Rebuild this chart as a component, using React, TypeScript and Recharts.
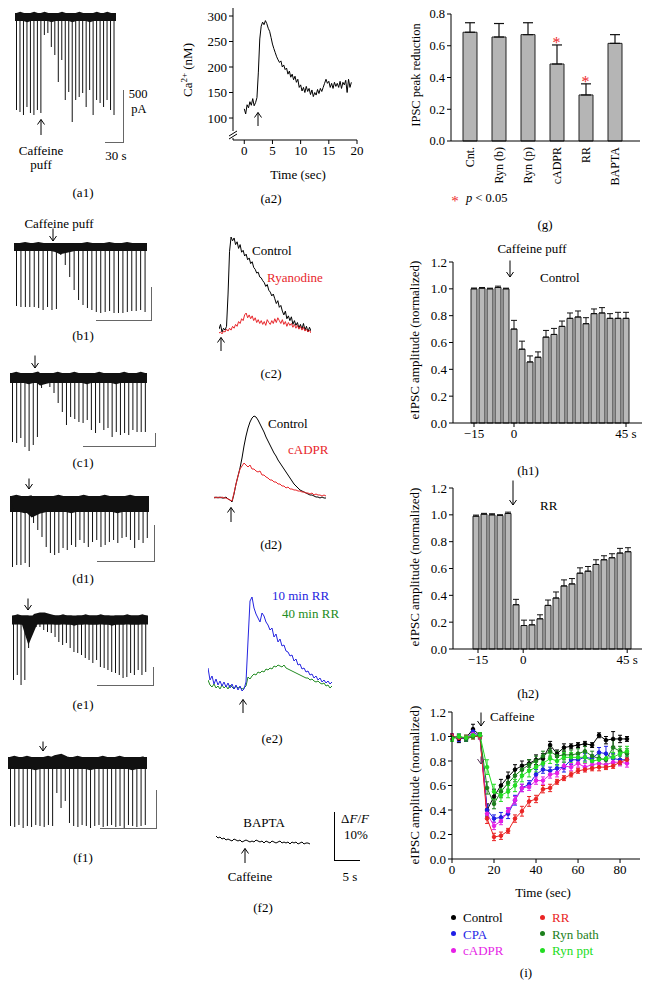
import React from 'react';
import { ComposedChart, LineChart, Bar, Line, XAxis, YAxis, ErrorBar, ReferenceLine } from 'recharts';

const SERIF = '"Liberation Serif", "DejaVu Serif", "Times New Roman", serif';

// ---------- (a1)-(f1) sweeps: spike depths (a.u.) and baseline offsets ----------
const a1Spikes = [93, 95, 98, 90, 96, 98, 93, 96, 18, 16, 30, 38, 65, 43, 83, 75, 105, 83, 80, 76, 90, 73, 98, 83, 86, 90, 83, 93, 98];
const a1Base = [0, 1, 0, -1, 0, 1, 0, 0, 1, 0, -1, 0, 0, 1, 0, 0, -1, 0, 1, 0, 0, -1, 0, 1, 0, 0, 1, 0, 0];
const b1Spikes = [59, 60, 60, 60, 60, 61, 63, 60, 63, 62, 8, 18, 30, 43, 53, 58, 61, 63, 65, 66, 65, 64, 66, 66, 66, 65, 64, 64, 63, 65];
const b1Base = [0, 0, 1, 0, 0, 1, 0, 0, 0, -1, -3, -2, -1, 0, 0, 0, 1, 0, 0, 0, 0, 1, 0, 0, 0, 1, 0, 0, 0, 0];
const c1Spikes = [64, 65, 60, 69, 73, 67, 59, 10, 4, 9, 15, 25, 34, 47, 39, 41, 44, 45, 42, 52, 55, 45, 52, 50, 59, 54, 57, 55, 57, 52, 54, 54, 54];
const c1Base = [0, 1, 0, 0, -1, 0, 1, -2, -1, 0, 0, 1, 0, 0, 0, 1, 0, 0, -1, 0, 0, 1, 0, 0, 0, -1, 0, 1, 0, 0, 0, 1, 0];
const d1Spikes = [63, 61, 61, 59, 63, 19, 26, 33, 43, 49, 51, 49, 44, 46, 41, 43, 36, 39, 43, 38, 36, 43, 41, 38, 36, 39, 34, 33, 36, 44, 36, 39, 34];
const d1Base = [0, 1, 0, -1, 0, -4, -2, -1, 0, 0, 0, 1, 0, 0, -1, 0, 0, 1, 0, 0, 0, 0, 1, 0, 0, -1, 0, 0, 1, 0, 0, 0, 0];
const e1Spikes = [60, 55, 65, 60, 28, 5, 7, 7, 10, 12, 13, 17, 22, 25, 23, 28, 32, 33, 35, 38, 40, 43, 40, 47, 48, 50, 52, 53, 55, 58, 57, 53, 55, 50, 55, 52];
const e1Base = [0, 1, 0, 0, -12, -3, 2, 3, 3, 2, 1, 0, 0, 1, 0, 0, -1, 0, 0, 1, 0, 0, 0, 1, 0, 0, -1, 0, 0, 0, 1, 0, 0, 0, 1, 0];
const f1Spikes = [63, 64, 62, 65, 63, 64, 62, 63, 64, 62, 63, 30, 45, 38, 60, 63, 64, 62, 63, 65, 63, 62, 64, 63, 62, 64, 63, 65, 62, 63, 64, 63, 62];
const f1Base = [0, 1, 0, 0, 1, 0, -1, 0, 0, 1, 0, 2, 3, 1, 0, 0, 1, 0, 0, -1, 0, 0, 1, 0, 0, 0, 1, 0, 0, -1, 0, 0, 1];

// ---------- (a2) Ca2+ trace ----------
const a2Time = [0, 0.25, 0.5, 0.75, 1, 1.25, 1.5, 1.75, 2, 2.25, 2.5, 2.75, 3, 3.25, 3.5, 3.75, 4, 4.25, 4.5, 4.75, 5, 5.25, 5.5, 5.75, 6, 6.25, 6.5, 6.75, 7, 7.25, 7.5, 7.75, 8, 8.25, 8.5, 8.75, 9, 9.25, 9.5, 9.75, 10, 10.25, 10.5, 10.75, 11, 11.25, 11.5, 11.75, 12, 12.25, 12.5, 12.75, 13, 13.25, 13.5, 13.75, 14, 14.25, 14.5, 14.75, 15, 15.25, 15.5, 15.75, 16, 16.25, 16.5, 16.75, 17, 17.25, 17.5, 17.75, 18, 18.25, 18.5, 18.75, 19];
const a2Ca = [118, 108, 126, 120, 132, 125, 138, 124, 130, 140, 190, 255, 280, 288, 283, 291, 285, 276, 270, 258, 245, 236, 228, 220, 214, 209, 212, 200, 204, 195, 198, 186, 192, 180, 186, 175, 182, 170, 176, 160, 165, 153, 160, 150, 162, 152, 158, 146, 155, 142, 150, 145, 156, 148, 158, 152, 160, 168, 176, 168, 172, 160, 168, 158, 170, 162, 168, 160, 172, 158, 170, 165, 174, 150, 176, 160, 170];

// ---------- (c2)-(f2) fluorescence traces (a.u.) ----------
const c2Control = [3, 8, 0, 4, 2, 6, 40, 85, 100, 96, 99, 92, 95, 88, 92, 84, 86, 80, 82, 76, 78, 72, 74, 68, 66, 62, 63, 58, 57, 54, 52, 48, 50, 44, 42, 38, 40, 35, 30, 33, 26, 28, 22, 18, 22, 14, 17, 12, 16, 8, 12, 7, 10, 4, 8, 3, 9, 2, 6, 0, 5, 1];
const c2Ryanodine = [-1, 0, -2, 1, 0, 3, 1, 4, 2, 6, 4, 8, 6, 11, 9, 14, 12, 18, 20, 15, 18, 14, 17, 12, 15, 10, 13, 9, 12, 8, 11, 7, 13, 10, 8, 12, 9, 14, 10, 15, 12, 9, 13, 8, 11, 6, 10, 7, 9, 5, 8, 4, 7, 3, 6, 2, 5, 1, 3, 0, 2, -1];
const d2Control = [0, 1, 0, 1, 0, 0, 1, -1, -2, -4, 4, 14, 22, 30, 40, 52, 62, 70, 76, 80, 82, 81, 78, 74, 70, 66, 61, 57, 53, 49, 45, 42, 38, 35, 32, 29, 26, 23, 20, 17, 14, 12, 10, 8, 7, 6, 5, 4, 3, 3, 2, 1, 1, 0, 1, 0, 0];
const d2Cadpr = [1, 0, 1, 0, 1, 0, 0, -1, -2, -3, 5, 14, 22, 29, 32, 35, 33, 31, 33, 29, 29, 27, 26, 27, 23, 23, 21, 20, 18, 18, 16, 16, 14, 14, 12, 12, 10, 11, 9, 9, 8, 8, 7, 7, 6, 6, 5, 5, 4, 5, 3, 4, 3, 3, 2, 3, 2];
const e2Rr10 = [18, 6, 10, 2, 7, 1, 5, 0, 4, -1, 3, -2, 2, -3, 1, -4, 0, -5, -3, 4, 45, 85, 89, 78, 72, 68, 64, 73, 70, 64, 61, 56, 58, 49, 52, 44, 47, 40, 41, 35, 34, 30, 31, 25, 27, 21, 22, 17, 18, 14, 15, 11, 12, 8, 10, 6, 8, 4, 6, 3, 5, 2, 4];
const e2Rr40 = [6, 1, -1, 2, -2, 0, -3, 1, -2, 0, -3, 1, -1, -3, 0, -2, -1, -3, -2, 0, 9, 7, 10, 12, 11, 14, 13, 15, 14, 17, 16, 18, 17, 20, 19, 21, 20, 19, 21, 18, 17, 16, 15, 14, 13, 12, 11, 10, 9, 8, 8, 6, 7, 5, 4, 5, 3, 2, 3, 0, 1, -2, 0];
const f2Bapta = [4, 2, 3, 1, 2, 0, 1, 0, -1, 1, 0, -1, 0, -2, -1, 0, -1, -2, -1, -2, 0, -1, -2, -1, -3, -1, -2, -3, -1, -2, -3, -2, -1, -3, -2, -3, -2, -4, -2, -3, -2, -4, -3, -2, -4, -3, -3, -4];

// ---------- (g) bar chart ----------
const gCats = ['Cnt.', 'Ryn (b)', 'Ryn (p)', 'cADPR', 'RR', 'BAPTA'];
const gMean = [0.685, 0.655, 0.67, 0.485, 0.29, 0.615];
const gErr = [0.06, 0.085, 0.075, 0.12, 0.07, 0.055];
const gSig = [false, false, false, true, true, false];
const gTicks = [0, 0.2, 0.4, 0.6, 0.8];

// ---------- (h1), (h2) ----------
const hIdx = [0, 1, 2, 3, 4, 5, 6, 7, 8, 9, 10, 11, 12, 13, 14, 15, 16, 17, 18, 19];
const h1Mean = [1.0, 1.005, 1.0, 1.01, 1.0, 0.7, 0.55, 0.455, 0.49, 0.64, 0.66, 0.72, 0.78, 0.79, 0.74, 0.815, 0.82, 0.78, 0.78, 0.78];
const h1Err = [0.006, 0.005, 0.005, 0.01, 0.005, 0.065, 0.06, 0.045, 0.04, 0.05, 0.045, 0.04, 0.04, 0.045, 0.045, 0.035, 0.04, 0.035, 0.045, 0.045];
const h2Mean = [0.99, 1.005, 1.0, 0.995, 1.01, 0.33, 0.175, 0.18, 0.225, 0.325, 0.38, 0.47, 0.485, 0.565, 0.58, 0.63, 0.665, 0.68, 0.715, 0.725];
const h2Err = [0.008, 0.006, 0.008, 0.006, 0.01, 0.04, 0.04, 0.035, 0.03, 0.04, 0.045, 0.045, 0.04, 0.04, 0.035, 0.035, 0.03, 0.03, 0.035, 0.03];
const h1TickPos = [0, 5, 19];
const h2TickPos = [0.25, 5.9, 18.9];
const hTickLabels = ['\u221215', '0', '45 s'];
const hYTicks = [0, 0.2, 0.4, 0.6, 0.8, 1.0, 1.2];

// ---------- (i) time course ----------
const iTime = [0, 3.3, 6.7, 10, 13.3, 16.7, 20, 23.3, 26.7, 30, 33.3, 36.7, 40, 43.3, 46.7, 50, 53.3, 56.7, 60, 63.3, 66.7, 70, 73.3, 76.7, 80, 83.3];
const iControl = [1.0, 0.98, 0.99, 1.06, 1.01, 0.4, 0.51, 0.6, 0.67, 0.73, 0.76, 0.78, 0.81, 0.82, 0.93, 0.86, 0.91, 0.92, 0.93, 0.94, 0.93, 1.01, 0.97, 0.98, 0.98, 0.98];
const iControlErr = [0.02, 0.03, 0.02, 0.04, 0.02, 0.05, 0.06, 0.05, 0.04, 0.04, 0.04, 0.03, 0.04, 0.04, 0.03, 0.03, 0.03, 0.02, 0.02, 0.02, 0.02, 0.02, 0.03, 0.06, 0.03, 0.02];
const iCpa = [1.0, 0.99, 0.98, 1.04, 1.0, 0.4, 0.33, 0.34, 0.37, 0.48, 0.58, 0.61, 0.69, 0.73, 0.72, 0.74, 0.75, 0.81, 0.81, 0.83, 0.82, 0.87, 0.86, 0.82, 0.81, 0.81];
const iCpaErr = [0.02, 0.03, 0.02, 0.02, 0.02, 0.04, 0.03, 0.04, 0.04, 0.04, 0.03, 0.03, 0.04, 0.03, 0.03, 0.03, 0.04, 0.04, 0.03, 0.03, 0.03, 0.04, 0.06, 0.04, 0.04, 0.03];
const iCadpr = [1.0, 0.99, 0.99, 1.02, 1.0, 0.37, 0.27, 0.31, 0.39, 0.48, 0.58, 0.59, 0.64, 0.64, 0.69, 0.7, 0.76, 0.75, 0.78, 0.75, 0.77, 0.78, 0.77, 0.79, 0.79, 0.78];
const iCadprErr = [0.02, 0.02, 0.02, 0.02, 0.02, 0.03, 0.03, 0.03, 0.03, 0.03, 0.03, 0.03, 0.03, 0.03, 0.03, 0.03, 0.03, 0.03, 0.03, 0.03, 0.03, 0.03, 0.03, 0.03, 0.03, 0.03];
const iRr = [1.0, 0.99, 0.99, 1.0, 1.0, 0.33, 0.18, 0.19, 0.23, 0.33, 0.39, 0.47, 0.49, 0.57, 0.58, 0.63, 0.66, 0.69, 0.72, 0.73, 0.74, 0.75, 0.75, 0.76, 0.79, 0.81];
const iRrErr = [0.02, 0.02, 0.02, 0.02, 0.02, 0.04, 0.03, 0.03, 0.02, 0.03, 0.04, 0.04, 0.03, 0.03, 0.03, 0.02, 0.02, 0.02, 0.02, 0.02, 0.02, 0.03, 0.02, 0.02, 0.02, 0.02];
const iRynBath = [0.99, 1.0, 0.98, 1.0, 1.01, 0.58, 0.45, 0.55, 0.62, 0.68, 0.73, 0.77, 0.8, 0.84, 0.88, 0.84, 0.85, 0.85, 0.86, 0.88, 0.84, 0.82, 0.81, 0.91, 0.88, 0.86];
const iRynBathErr = [0.02, 0.02, 0.02, 0.02, 0.02, 0.05, 0.04, 0.05, 0.05, 0.05, 0.04, 0.04, 0.04, 0.04, 0.04, 0.04, 0.04, 0.04, 0.04, 0.04, 0.04, 0.04, 0.05, 0.06, 0.04, 0.04];
const iRynPpt = [0.98, 1.0, 0.99, 1.01, 1.01, 0.75, 0.55, 0.52, 0.55, 0.6, 0.68, 0.72, 0.75, 0.78, 0.82, 0.8, 0.83, 0.83, 0.83, 0.83, 0.8, 0.81, 0.82, 0.83, 0.86, 0.88];
const iRynPptErr = [0.02, 0.02, 0.02, 0.02, 0.02, 0.06, 0.06, 0.05, 0.05, 0.05, 0.05, 0.05, 0.04, 0.04, 0.04, 0.04, 0.04, 0.04, 0.04, 0.04, 0.04, 0.04, 0.04, 0.04, 0.04, 0.04];
const iNames = ['Control', 'CPA', 'cADPR', 'RR', 'Ryn bath', 'Ryn ppt'];
const iColors = ['#000000', '#1f1fe6', '#e61fe6', '#ea2424', '#1c801c', '#22dd22'];
const iValues = [iControl, iCpa, iCadpr, iRr, iRynBath, iRynPpt];
const iErrors = [iControlErr, iCpaErr, iCadprErr, iRrErr, iRynBathErr, iRynPptErr];

// ---------- helpers ----------
type TP = { x: number; y: number; children: React.ReactNode; color?: string; size?: number; anchor?: 'start' | 'middle' | 'end'; rotate?: number; italic?: boolean };
const T = ({ x, y, children, color = '#000', size = 13, anchor = 'middle', rotate = 0, italic = false }: TP) => {
  const tx = anchor === 'middle' ? '-50%' : anchor === 'end' ? '-100%' : '0';
  return (
    <div
      style={{
        position: 'absolute', left: x, top: y, color, fontSize: size, fontFamily: SERIF, lineHeight: 1,
        whiteSpace: 'nowrap', fontStyle: italic ? 'italic' : 'normal',
        transform: `translate(${tx}, -50%)${rotate ? ` rotate(${rotate}deg)` : ''}`,
      }}
    >
      {children}
    </div>
  );
};

const Arrow = ({ x, y1, y2, dir, color = '#000' }: { x: number; y1: number; y2: number; dir: 'up' | 'down'; color?: string }) => {
  const h = y2 - y1;
  return (
    <svg style={{ position: 'absolute', left: x - 5, top: y1 }} width={10} height={h + 1}>
      <line x1={5} y1={0.5} x2={5} y2={h} stroke={color} strokeWidth={1} />
      {dir === 'down' ? (
        <polyline points={`1.5,${h - 5} 5,${h} 8.5,${h - 5}`} fill="none" stroke={color} strokeWidth={1} />
      ) : (
        <polyline points={`1.5,5.5 5,0.5 8.5,5.5`} fill="none" stroke={color} strokeWidth={1} />
      )}
    </svg>
  );
};

const ScaleBar = ({ x1, x2, y1, y2, color = '#666' }: { x1: number; x2: number; y1: number; y2: number; color?: string }) => (
  <div style={{ position: 'absolute', left: x1, top: y1, width: x2 - x1, height: y2 - y1, borderRight: `1.5px solid ${color}`, borderBottom: `1.5px solid ${color}`, boxSizing: 'border-box' }} />
);

type SweepP = { spikes: number[]; base: number[]; left: number; width: number; center: number; bottom: number; band: number };
const Sweep = ({ spikes, base, left, width, center, bottom, band }: SweepP) => {
  const data = spikes.map((d, i) => ({ i, spike: -d, base: base[i] }));
  const top = center - 14;
  const height = bottom - top;
  return (
    <div style={{ position: 'absolute', left, top }}>
      <ComposedChart width={width} height={height} data={data} margin={{ top: 0, right: 0, bottom: 0, left: 0 }}>
        <XAxis dataKey="i" hide />
        <YAxis hide domain={[-(bottom - center), 14]} />
        <Bar dataKey="spike" fill="#111" barSize={1} isAnimationActive={false} />
        <ReferenceLine y={0} stroke="#111" strokeWidth={band} />
        <Line dataKey="base" stroke="#111" strokeWidth={band} dot={false} isAnimationActive={false} />
      </ComposedChart>
    </div>
  );
};

type TraceP = { left: number; top: number; width: number; height: number; yDomain: [number, number]; series: { values: number[]; color: string }[] };
const Trace = ({ left, top, width, height, yDomain, series }: TraceP) => {
  const n = series[0].values.length;
  const data = series[0].values.map((_, i) => {
    const row: Record<string, number> = { i };
    series.forEach((s, k) => { row['s' + k] = s.values[i]; });
    return row;
  });
  return (
    <div style={{ position: 'absolute', left, top }}>
      <LineChart width={width} height={height} data={data} margin={{ top: 0, right: 0, bottom: 0, left: 0 }}>
        <XAxis dataKey="i" type="number" domain={[0, n - 1]} hide />
        <YAxis hide domain={yDomain} allowDataOverflow />
        {series.map((s, k) => (
          <Line key={k} dataKey={'s' + k} stroke={s.color} strokeWidth={1} dot={false} isAnimationActive={false} type="linear" />
        ))}
      </LineChart>
    </div>
  );
};

const axisTick = { fill: '#000', fontSize: 13, fontFamily: SERIF };

const GCatTick = (props: any) => {
  const { x, y, payload } = props;
  return (
    <text x={x} y={y} transform={`rotate(-90 ${x} ${y})`} textAnchor="end" dy="0.35em" fontSize={12} fontFamily={SERIF} fill="#000">
      {payload.value}
    </text>
  );
};

const StarDot = (props: any) => {
  const { cx, cy, index, value } = props;
  if (value == null || cy == null || isNaN(cy)) return <g key={'st' + index} />;
  return (
    <text key={'st' + index} x={cx} y={cy + 9} textAnchor="middle" fontSize={16} fontFamily={SERIF} fill="#ee2b2b">*</text>
  );
};

const HPanel = ({ top, means, errs, tickPos, xDomain }: { top: number; means: number[]; errs: number[]; tickPos: number[]; xDomain: [number, number] }) => {
  const data = hIdx.map((i, k) => ({ i, m: means[k], e: [0, errs[k]] }));
  return (
    <div style={{ position: 'absolute', left: 400, top }}>
      <ComposedChart width={252} height={195} data={data} margin={{ top: 12, right: 10, bottom: 4, left: 0 }}>
        <XAxis
          dataKey="i" type="number" domain={xDomain} ticks={tickPos} height={18} stroke="#000" tickSize={4}
          tick={axisTick} tickFormatter={(v: number) => hTickLabels[tickPos.indexOf(v)] ?? ''} interval={0} allowDataOverflow
        />
        <YAxis domain={[0, 1.2]} ticks={hYTicks} width={53} stroke="#000" tickSize={4} tick={axisTick} tickFormatter={(v: number) => v.toFixed(1)} interval={0} />
        <Bar dataKey="m" fill="#b9b9b9" stroke="#222" strokeWidth={1} barSize={6} isAnimationActive={false}>
          <ErrorBar dataKey="e" width={3} stroke="#111" strokeWidth={1} direction="y" />
        </Bar>
      </ComposedChart>
    </div>
  );
};

export default function App() {
  const gData = gCats.map((c, k) => ({ c, m: gMean[k], e: [0, gErr[k]], star: gSig[k] ? gMean[k] + gErr[k] + 0.035 : null }));
  const a2Data = a2Time.map((t, k) => ({ t, v: a2Ca[k] }));
  const iData = iTime.map((t, k) => {
    const row: Record<string, number> = { t };
    iValues.forEach((vals, s) => { row['v' + s] = vals[k]; row['e' + s] = iErrors[s][k]; });
    return row;
  });

  return (
    <div style={{ position: 'absolute', left: 0, top: 0, width: 652, height: 986, background: '#fff', overflow: 'hidden', fontFamily: SERIF }}>
      {/* ---------------- left column sweeps ---------------- */}
      <Sweep spikes={a1Spikes} base={a1Base} left={15} width={101} center={17} bottom={125} band={8} />
      <ScaleBar x1={105} x2={124} y1={90} y2={143} />
      <T x={138} y={94} size={12.5}>500</T>
      <T x={139} y={109} size={12.5}>pA</T>
      <T x={116} y={155}>30 s</T>
      <Arrow x={41} y1={119} y2={135} dir="up" />
      <T x={41} y={150}>Caffeine</T>
      <T x={41} y={164}>puff</T>
      <T x={83} y={192}>(a1)</T>

      <T x={59} y={223}>Caffeine puff</T>
      <Arrow x={53} y1={228} y2={241} dir="down" />
      <Sweep spikes={b1Spikes} base={b1Base} left={14} width={133} center={247} bottom={318} band={8} />
      <ScaleBar x1={96} x2={152} y1={287} y2={321} />
      <T x={83} y={335}>(b1)</T>

      <Arrow x={35} y1={355} y2={368} dir="down" />
      <Sweep spikes={c1Spikes} base={c1Base} left={10} width={137} center={378} bottom={455} band={10} />
      <ScaleBar x1={83} x2={156} y1={433} y2={447} />
      <T x={83} y={462}>(c1)</T>

      <Arrow x={29} y1={478} y2={489} dir="down" />
      <Sweep spikes={d1Spikes} base={d1Base} left={10} width={139} center={504} bottom={570} band={16} />
      <ScaleBar x1={97} x2={155} y1={525} y2={562} />
      <T x={83} y={578}>(d1)</T>

      <Arrow x={28} y1={598} y2={610} dir="down" />
      <Sweep spikes={e1Spikes} base={e1Base} left={12} width={136} center={620} bottom={690} band={9} />
      <ScaleBar x1={97} x2={154} y1={667} y2={686} />
      <T x={83} y={704}>(e1)</T>

      <Arrow x={43} y1={741} y2={751} dir="down" />
      <Sweep spikes={f1Spikes} base={f1Base} left={8} width={139} center={763} bottom={832} band={12} />
      <ScaleBar x1={100} x2={157} y1={790} y2={829} />
      <T x={83} y={857}>(f1)</T>

      {/* ---------------- (a2) ---------------- */}
      <div style={{ position: 'absolute', left: 190, top: 0 }}>
        <LineChart width={175} height={165} data={a2Data} margin={{ top: 8, right: 8, bottom: 5, left: 0 }}>
          <XAxis dataKey="t" type="number" domain={[-2, 20]} ticks={[0, 5, 10, 15, 20]} height={20} stroke="#000" tickSize={4} tick={axisTick} interval={0} allowDataOverflow />
          <YAxis domain={[56.9, 315.7]} ticks={[100, 150, 200, 250, 300]} width={43} stroke="#000" tickSize={4} tick={axisTick} interval={0} allowDataOverflow />
          <Line dataKey="v" stroke="#000" strokeWidth={1} dot={false} isAnimationActive={false} type="linear" />
        </LineChart>
      </div>
      <svg style={{ position: 'absolute', left: 226, top: 128 }} width={14} height={13}>
        <rect x={4} y={3} width={6} height={7} fill="#fff" />
        <line x1={3} y1={8} x2={11} y2={3} stroke="#000" strokeWidth={1} />
        <line x1={3} y1={11} x2={11} y2={6} stroke="#000" strokeWidth={1} />
      </svg>
      <T x={187} y={70} rotate={-90}>
        Ca<sup style={{ fontSize: 9 }}>2+</sup> (nM)
      </T>
      <Arrow x={258} y1={112} y2={126} dir="up" />
      <T x={298} y={174}>Time (sec)</T>
      <T x={271} y={198}>(a2)</T>

      {/* ---------------- (c2) ---------------- */}
      <Trace left={219} top={228} width={92} height={112} yDomain={[-8.4, 109.5]} series={[{ values: c2Control, color: '#000' }, { values: c2Ryanodine, color: '#e8262b' }]} />
      <T x={252} y={250} anchor="start">Control</T>
      <T x={267} y={277} anchor="start" color="#e8262b">Ryanodine</T>
      <Arrow x={221} y1={337} y2={351} dir="up" />
      <T x={271} y={373}>(c2)</T>

      {/* ---------------- (d2) ---------------- */}
      <Trace left={214} top={410} width={112} height={100} yDomain={[-12, 88]} series={[{ values: d2Control, color: '#000' }, { values: d2Cadpr, color: '#e8262b' }]} />
      <T x={268} y={423} anchor="start">Control</T>
      <T x={288} y={449} anchor="start" color="#e8262b">cADPR</T>
      <Arrow x={231} y1={507} y2={522} dir="up" />
      <T x={271} y={544}>(d2)</T>

      {/* ---------------- (e2) ---------------- */}
      <Trace left={208} top={590} width={124} height={110} yDomain={[-14, 96]} series={[{ values: e2Rr40, color: '#228b22' }, { values: e2Rr10, color: '#2424e0' }]} />
      <T x={272} y={595} anchor="start" color="#2424e0">10 min RR</T>
      <T x={282} y={613} anchor="start" color="#228b22">40 min RR</T>
      <Arrow x={243} y1={699} y2={713} dir="up" />
      <T x={272} y={738}>(e2)</T>

      {/* ---------------- (f2) ---------------- */}
      <Trace left={216} top={830} width={94} height={20} yDomain={[-10, 10]} series={[{ values: f2Bapta, color: '#000' }]} />
      <T x={264} y={822}>BAPTA</T>
      <Arrow x={245} y1={848} y2={863} dir="up" />
      <T x={250} y={876}>Caffeine</T>
      <T x={355} y={818}>
        Δ<i>F</i>/<i>F</i>
      </T>
      <T x={356} y={834}>10%</T>
      <div style={{ position: 'absolute', left: 334, top: 812, width: 1.2, height: 49, background: '#000' }} />
      <div style={{ position: 'absolute', left: 334, top: 860, width: 26, height: 1.2, background: '#000' }} />
      <T x={350} y={876}>5 s</T>
      <T x={263} y={907}>(f2)</T>

      {/* ---------------- (g) ---------------- */}
      <div style={{ position: 'absolute', left: 400, top: 0 }}>
        <ComposedChart width={252} height={200} data={gData} margin={{ top: 14, right: 12, bottom: 0, left: 0 }}>
          <XAxis dataKey="c" height={59} stroke="#000" tickLine={false} tickSize={0} tickMargin={6} tick={<GCatTick />} interval={0} padding={{ left: 4, right: 11 }} />
          <YAxis domain={[0, 0.8]} ticks={gTicks} width={51} stroke="#000" tickSize={4} tick={{ ...axisTick, fontSize: 12.5 }} tickFormatter={(v: number) => v.toFixed(1)} interval={0} />
          <Bar dataKey="m" fill="#b5b5b5" stroke="#222" strokeWidth={1} barSize={14} isAnimationActive={false}>
            <ErrorBar dataKey="e" width={5} stroke="#111" strokeWidth={1.2} direction="y" />
          </Bar>
          <Line dataKey="star" stroke="none" dot={<StarDot />} activeDot={false} isAnimationActive={false} />
        </ComposedChart>
      </div>
      <T x={416} y={75} rotate={-90} size={12.5}>IPSC peak reduction</T>
      <T x={455} y={201} color="#ee2b2b" size={15}>*</T>
      <T x={466} y={198} anchor="start" size={12.5}>
        <i>p</i> &lt; 0.05
      </T>
      <T x={545} y={224}>(g)</T>

      {/* ---------------- (h1) ---------------- */}
      <T x={532} y={248}>Caffeine puff</T>
      <HPanel top={250} means={h1Mean} errs={h1Err} tickPos={h1TickPos} xDomain={[-2.625, 21]} />
      <Arrow x={510} y1={260} y2={277} dir="down" />
      <T x={540} y={277} anchor="start">Control</T>
      <T x={414} y={340} rotate={-90}>eIPSC amplitude (normalized)</T>
      <T x={528} y={470}>(h1)</T>

      {/* ---------------- (h2) ---------------- */}
      <HPanel top={476} means={h2Mean} errs={h2Err} tickPos={h2TickPos} xDomain={[-2.875, 20.75]} />
      <Arrow x={513} y1={480} y2={505} dir="down" />
      <T x={540} y={505} anchor="start">RR</T>
      <T x={414} y={567} rotate={-90}>eIPSC amplitude (normalized)</T>
      <T x={528} y={693}>(h2)</T>

      {/* ---------------- (i) ---------------- */}
      <div style={{ position: 'absolute', left: 400, top: 700 }}>
        <LineChart width={252} height={180} data={iData} margin={{ top: 12, right: 12, bottom: 3, left: 0 }}>
          <XAxis dataKey="t" type="number" domain={[0, 89.5]} ticks={[0, 20, 40, 60, 80]} height={18} stroke="#000" tickSize={4} tick={axisTick} interval={0} allowDataOverflow />
          <YAxis domain={[0, 1.2]} ticks={hYTicks} width={52} stroke="#000" tickSize={4} tick={axisTick} tickFormatter={(v: number) => v.toFixed(1)} interval={0} />
          {iNames.map((n, s) => (
            <Line key={n} dataKey={'v' + s} name={n} stroke={iColors[s]} strokeWidth={1} dot={{ r: 1.8, fill: iColors[s], stroke: iColors[s] }} isAnimationActive={false} type="linear">
              <ErrorBar dataKey={'e' + s} width={2} stroke={iColors[s]} strokeWidth={1} direction="y" />
            </Line>
          ))}
        </LineChart>
      </div>
      <Arrow x={481} y1={712} y2={726} dir="down" />
      <T x={490} y={716} anchor="start">Caffeine</T>
      <Arrow x={481} y1={756} y2={764} dir="down" color="#553355" />
      <T x={414} y={785} rotate={-90}>eIPSC amplitude (normalized)</T>
      <T x={543} y={892}>Time (sec)</T>

      {/* legend */}
      {iNames.map((n, s) => {
        const col = s < 3 ? 0 : 1;
        const row = s % 3;
        const x = col === 0 ? 453 : 542;
        const y = 917 + row * 16.5;
        return (
          <React.Fragment key={n}>
            <div style={{ position: 'absolute', left: x - 2.5, top: y - 2.5, width: 5, height: 5, borderRadius: 3, background: iColors[s] }} />
            <T x={x + 10} y={y} anchor="start" color={iColors[s]}>{n}</T>
          </React.Fragment>
        );
      })}
      <T x={526} y={972}>(i)</T>
    </div>
  );
}
